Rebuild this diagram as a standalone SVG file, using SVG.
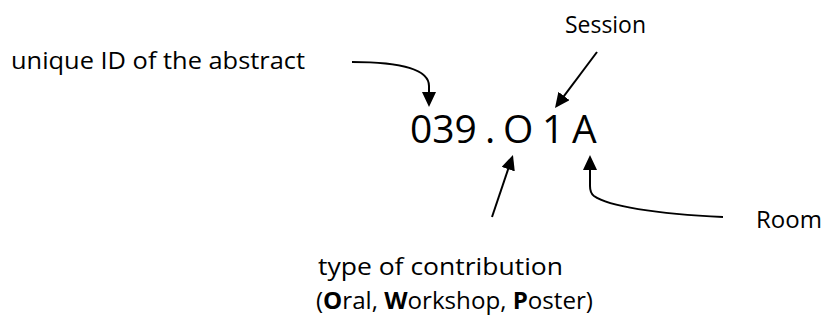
<svg xmlns="http://www.w3.org/2000/svg" width="825" height="321" viewBox="0 0 825 321">
  <style>
    text { font-family: "Open Sans", "Noto Sans", "Liberation Sans", sans-serif; fill: #000; }
    .lbl { font-size: 24px; }
    .code { font-size: 39px; }
    .b { font-weight: bold; }
    .conn { fill: none; stroke: #000; stroke-width: 2; marker-end: url(#head); }
  </style>
  <defs>
    <marker id="head" markerUnits="userSpaceOnUse" markerWidth="16" markerHeight="14" refX="12" refY="7" orient="auto">
      <path d="M0,0 L15,7 L0,14 z" fill="#000"/>
    </marker>
  </defs>

  <rect width="825" height="321" fill="#fff"/>

  <!-- connectors -->
  <g id="connectors">
    <path class="conn" d="M352,62 C392,62 429,67 429,86 L429,104"/>
    <path class="conn" d="M597,52 L556.8,105.6"/>
    <path class="conn" d="M492,217 L512,157.8"/>
    <path class="conn" d="M723,217 C655,214 608,206 594,196 Q590,193 590,186 L590,158"/>
  </g>

  <!-- abstract code -->
  <g id="code">
    <text class="code" y="142.5"><tspan x="410">039</tspan><tspan x="485">.</tspan><tspan x="503">O</tspan><tspan x="542">1</tspan><tspan x="572">A</tspan></text>
  </g>

  <g id="id-label">
    <text class="lbl" x="11" y="69" textLength="294" lengthAdjust="spacingAndGlyphs">unique ID of the abstract</text>
  </g>

  <g id="session-label">
    <text class="lbl" x="565" y="33" textLength="81" lengthAdjust="spacingAndGlyphs">Session</text>
  </g>

  <g id="room-label">
    <text class="lbl" x="756" y="228" textLength="66" lengthAdjust="spacingAndGlyphs">Room</text>
  </g>

  <g id="type-label">
    <text class="lbl" x="318" y="275" textLength="245" lengthAdjust="spacingAndGlyphs">type of contribution</text>
    <text class="lbl" x="316" y="309" textLength="277" lengthAdjust="spacingAndGlyphs">(<tspan class="b">O</tspan>ral, <tspan class="b">W</tspan>orkshop, <tspan class="b">P</tspan>oster)</text>
  </g>
</svg>
